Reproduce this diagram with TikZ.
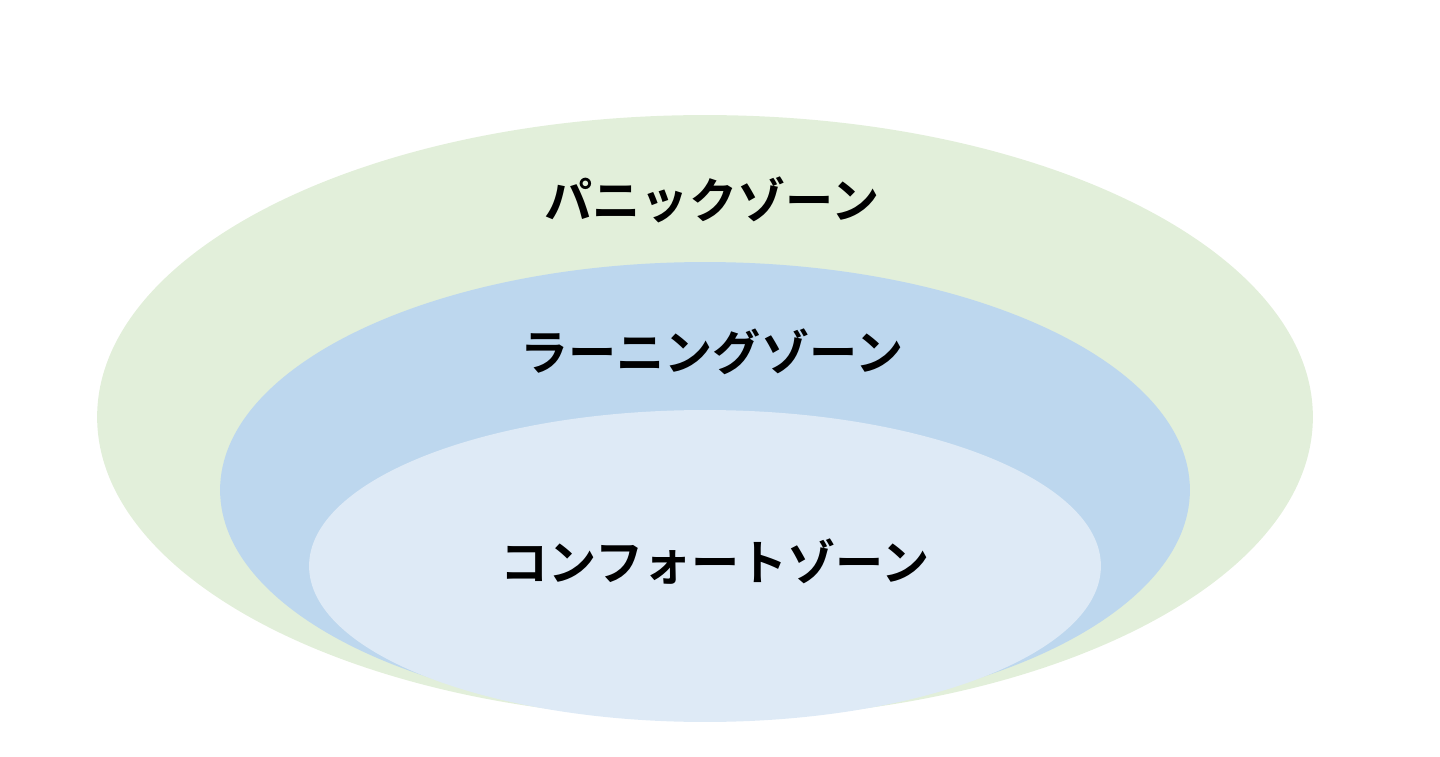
\documentclass[tikz,border=0pt]{standalone}
\usepackage{fontspec}
\usepackage{tikz}
\newfontfamily\jpfont{Noto Sans CJK JP}[BoldFont={Noto Sans CJK JP Bold}]
\definecolor{panicgreen}{HTML}{E2EFDA}
\definecolor{learnblue}{HTML}{BDD7EE}
\definecolor{comfortblue}{HTML}{DEEAF6}
\tikzset{zonelabel/.style={font=\jpfont\bfseries\fontsize{27.4}{33}\selectfont, text=black, inner sep=0pt}}

\begin{document}
\begin{tikzpicture}[x=0.02cm, y=-0.02cm]
	\useasboundingbox (0,0) rectangle (1440,757);
	\fill[panicgreen] (705,417) ellipse [x radius=12.16cm, y radius=6.04cm];
	\fill[learnblue] (705,490) ellipse [x radius=9.7cm, y radius=4.56cm];
	\fill[comfortblue] (705,566) ellipse [x radius=7.92cm, y radius=3.12cm];
	\node[zonelabel] (panic) at (712,200) {パニックゾーン};
	\node[zonelabel] (learning) at (712,352) {ラーニングゾーン};
	\node[zonelabel] (comfort) at (715,562) {コンフォートゾーン};
\end{tikzpicture}
\end{document}
